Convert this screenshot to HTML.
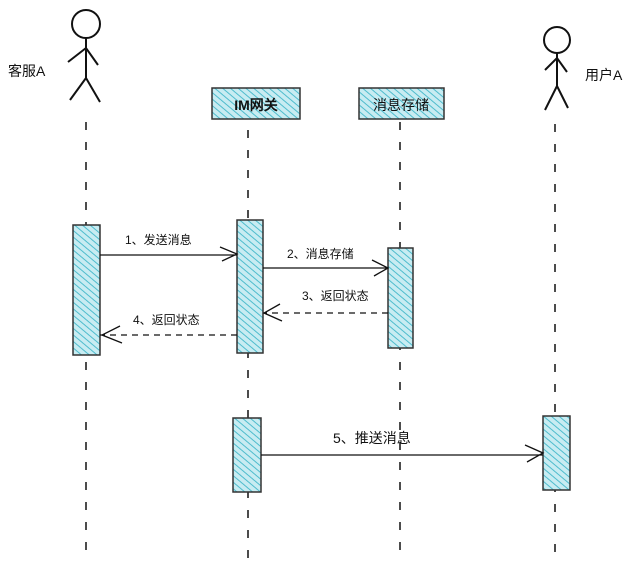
<!DOCTYPE html><html><head><meta charset="utf-8"><style>body{margin:0;background:#fff}svg{display:block}text{font-family:"Liberation Sans","WenQuanYi Zen Hei",sans-serif;fill:#111}</style></head><body>
<svg width="640" height="576" viewBox="0 0 640 576" xmlns="http://www.w3.org/2000/svg">
<defs><pattern id="h" width="5" height="5" patternUnits="userSpaceOnUse" patternTransform="rotate(-50)"><rect width="5" height="5" fill="#c8ecf2"/><line x1="0" y1="0" x2="0" y2="5" stroke="#4fbccd" stroke-width="2"/></pattern></defs>
<g stroke="#111" stroke-width="1.5" stroke-dasharray="8,12" fill="none">
<line x1="86" y1="122" x2="86" y2="560"/><line x1="248" y1="130" x2="248" y2="560"/><line x1="400" y1="122" x2="400" y2="560"/><line x1="555" y1="124" x2="555" y2="560"/></g>
<g stroke="#111" stroke-width="2" fill="none">
<circle cx="86" cy="24" r="14"/><path d="M86 38V78M68 62L86 48L98 65M86 78L70 100M86 78L100 102"/>
<circle cx="557" cy="40" r="13"/><path d="M557 53V88M545 70L557 58L567 72M557 86L545 110M557 86L568 108"/></g>
<text x="8" y="76" font-size="14">客服A</text><text x="585" y="80" font-size="14">用户A</text>
<g stroke="#333" stroke-width="1.5">
<rect x="212" y="88" width="88" height="31" fill="url(#h)"/><rect x="359" y="88" width="85" height="31" fill="url(#h)"/>
<rect x="73" y="225" width="27" height="130" fill="url(#h)"/><rect x="237" y="220" width="26" height="133" fill="url(#h)"/>
<rect x="388" y="248" width="25" height="100" fill="url(#h)"/><rect x="233" y="418" width="28" height="74" fill="url(#h)"/><rect x="543" y="416" width="27" height="74" fill="url(#h)"/></g>
<text x="256" y="110" font-size="14" text-anchor="middle" font-weight="bold">IM网关</text><text x="401" y="110" font-size="14" text-anchor="middle">消息存储</text>
<g stroke="#111" stroke-width="1.3" fill="none">
<path d="M100 255H237M220 247L237 254L222 261"/><path d="M263 268H388M372 260L388 268L374 276"/>
<path d="M388 313H263" stroke-dasharray="6,5"/><path d="M280 304L264 313L282 321"/>
<path d="M237 335H100" stroke-dasharray="6,5"/><path d="M120 326L102 335L122 343"/>
<path d="M261 455H543M525 445L543 453L527 462"/></g>
<g font-size="12"><text x="125" y="244">1、发送消息</text><text x="287" y="258">2、消息存储</text><text x="302" y="300">3、返回状态</text><text x="133" y="324">4、返回状态</text></g>
<text x="333" y="443" font-size="14">5、推送消息</text>
</svg></body></html>
